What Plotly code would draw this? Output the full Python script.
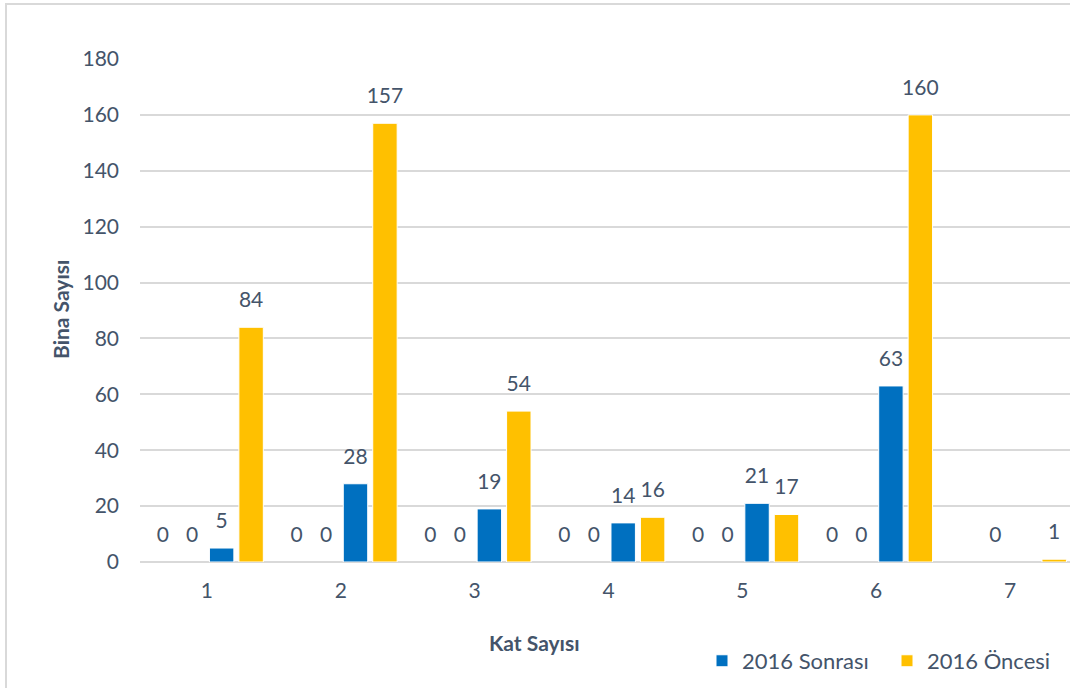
import plotly.graph_objects as go

# Kat sayısına göre bina sayıları
kat_sayisi = ["1", "2", "3", "4", "5", "6", "7"]
bos_seri_1 = [0, 0, 0, 0, 0, 0, None]
bos_seri_2 = [0, 0, 0, 0, 0, 0, 0]
sonrasi_2016 = [5, 28, 19, 14, 21, 63, None]
oncesi_2016 = [84, 157, 54, 16, 17, 160, 1]
y_ticks = [0, 20, 40, 60, 80, 100, 120, 140, 160, 180]

TEXT = "#44546A"
FONT = "Lato"
BLUE = "#0070C0"
YELLOW = "#FFC000"
GRID = "#D9D9D9"
GAP = 0.12

# (name, values, colour, legend id or None, outline width)
series = [
    ("Seri 1", bos_seri_1, BLUE, None, 0),
    ("Seri 2", bos_seri_2, YELLOW, None, 0),
    ("2016 Sonrası", sonrasi_2016, BLUE, "legend", 1),
    ("2016 Öncesi", oncesi_2016, YELLOW, "legend2", 1),
]

fig = go.Figure()

# grouped bars
for i, (name, values, color, leg, lw) in enumerate(series):
    fig.add_trace(go.Bar(
        x=kat_sayisi,
        y=values,
        name=name,
        offsetgroup=str(i),
        marker=dict(color=color, line=dict(color="white", width=lw)),
        showlegend=leg is not None,
        legend=leg or "legend",
        hoverinfo="skip",
    ))

# value labels, grouped the same way so they sit over each bar
for i, (name, values, color, leg, lw) in enumerate(series):
    fig.add_trace(go.Scatter(
        x=kat_sayisi,
        y=values,
        offsetgroup=str(i),
        mode="markers+text",
        marker=dict(size=22, color="rgba(0,0,0,0)"),
        text=[("" if v is None else str(v)) for v in values],
        textposition="top center",
        textfont=dict(family=FONT, size=21, color=TEXT),
        cliponaxis=False,
        showlegend=False,
        hoverinfo="skip",
    ))

legend_style = dict(
    orientation="h",
    xanchor="left",
    y=-0.155,
    yanchor="top",
    font=dict(family=FONT, size=22, color=TEXT),
    itemwidth=30,
    bgcolor="rgba(0,0,0,0)",
)

fig.update_layout(
    width=1070,
    height=688,
    margin=dict(l=140, r=0, t=59, b=126),
    paper_bgcolor="white",
    plot_bgcolor="white",
    barmode="group",
    bargap=GAP,
    bargroupgap=0.17,
    scattermode="group",
    scattergap=GAP,
    font=dict(family=FONT, color=TEXT),
    xaxis=dict(
        type="category",
        range=[-0.5, 6.448],
        showgrid=False,
        showline=False,
        ticks="",
        tickfont=dict(family=FONT, size=21, color=TEXT),
        ticklabelstandoff=14,
    ),
    yaxis=dict(
        range=[0, 180],
        tickvals=y_ticks,
        showgrid=True,
        gridcolor=GRID,
        gridwidth=1.5,
        zeroline=True,
        zerolinecolor=GRID,
        zerolinewidth=2,
        showline=False,
        ticks="",
        tickfont=dict(family=FONT, size=21, color=TEXT),
        ticklabelstandoff=20,
    ),
    legend=dict(x=(702 - 140) / 930, **legend_style),
    legend2=dict(x=(887 - 140) / 930, **legend_style),
    annotations=[
        dict(
            text="<b>Kat Sayısı</b>",
            xref="paper", yref="paper",
            x=(534 - 140) / 930, y=-(642 - 562) / 503,
            xanchor="center", yanchor="middle",
            showarrow=False,
            font=dict(family=FONT, size=21, color=TEXT),
        ),
        dict(
            text="<b>Bina Sayısı</b>",
            xref="paper", yref="paper",
            x=-(140 - 60) / 930, y=(562 - 310) / 503,
            xanchor="center", yanchor="middle",
            textangle=-90,
            showarrow=False,
            font=dict(family=FONT, size=21, color=TEXT),
        ),
    ],
    shapes=[
        dict(
            type="rect",
            xref="paper", yref="paper",
            x0=-(140 - 6) / 930, x1=1.05,
            y0=-0.3, y1=1 + (59 - 4) / 503,
            line=dict(color=GRID, width=2),
            fillcolor="rgba(0,0,0,0)",
            layer="below",
        )
    ],
)

fig.write_html("out.html")
